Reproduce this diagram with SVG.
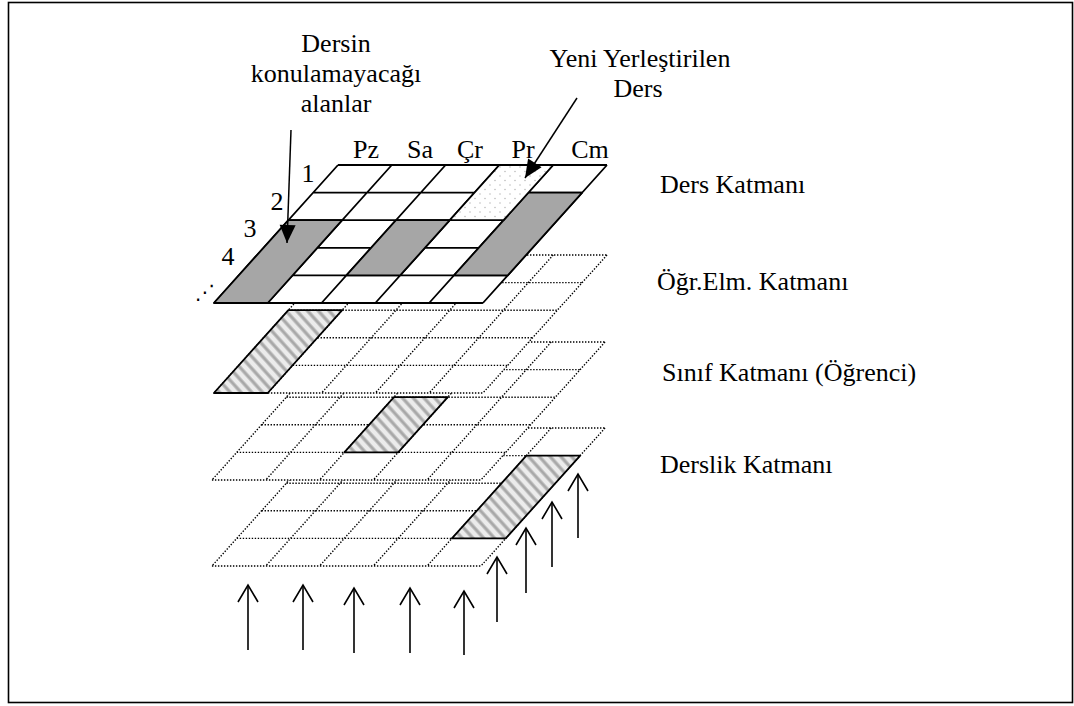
<svg xmlns="http://www.w3.org/2000/svg" xmlns:xlink="http://www.w3.org/1999/xlink" width="1074" height="706" viewBox="0 0 1074 706">
<style>
  text { font-family: "Liberation Serif", "Times New Roman", serif; font-size: 26px; fill: #000; }
  .mid { text-anchor: middle; }
  .solid { fill: none; stroke: #000; stroke-width: 1.8; }
  .dotted { fill: none; stroke: #000; stroke-width: 1.4; stroke-dasharray: 1.4 1.6; }
  .back { fill: #fff; stroke: none; }
  .gray { fill: #a6a6a6; stroke: #000; stroke-width: 1.8; stroke-linejoin: round; }
  .striped { fill: url(#stripes); stroke: #000; stroke-width: 1.8; stroke-linejoin: round; }
  .speck { fill: url(#specks); stroke: #000; stroke-width: 1.8; }
  .up { fill: none; stroke: #000; stroke-width: 1.6; marker-end: url(#open); }
  .lead { fill: none; stroke: #000; stroke-width: 1.5; marker-end: url(#solidhead); }
</style>
<defs>
  <pattern id="stripes" patternUnits="userSpaceOnUse" width="8" height="8" patternTransform="rotate(-42)">
    <rect width="8" height="8" fill="#ececec"/>
    <rect x="2" width="4" height="8" fill="#cacaca"/>
    <rect x="2.8" width="2.4" height="8" fill="#a8a8a8"/>
  </pattern>
  <pattern id="specks" patternUnits="userSpaceOnUse" width="10" height="9">
    <rect width="10" height="9" fill="#fff"/>
    <circle cx="2" cy="2" r="0.8" fill="#bdbdbd"/>
    <circle cx="7" cy="6.5" r="0.8" fill="#bdbdbd"/>
  </pattern>
  <marker id="open" markerUnits="userSpaceOnUse" viewBox="-20 -12 22 24" refX="0" refY="0" markerWidth="22" markerHeight="24" orient="auto">
    <path d="M-17,-10 L0,0 L-17,10" fill="none" stroke="#000" stroke-width="1.6"/>
  </marker>
  <marker id="solidhead" markerUnits="userSpaceOnUse" viewBox="-20 -10 22 20" refX="0" refY="0" markerWidth="22" markerHeight="20" orient="auto">
    <path d="M-18,-8 L0,0 L-18,8 Z" fill="#000"/>
  </marker>
  <path id="outline" d="M0,0H269L144.93,138H-124.07Z"/>
  <path id="lines" d="M0,0H269 M-24.81,27.6H244.19 M-49.63,55.2H219.37 M-74.44,82.8H194.56 M-99.26,110.4H169.74 M-124.07,138H144.93 M0,0L-124.07,138 M53.8,0L-70.27,138 M107.6,0L-16.47,138 M161.4,0L37.33,138 M215.2,0L91.13,138 M269,0L144.93,138"/>
</defs>

<rect x="8.5" y="2.5" width="1064" height="700" fill="#fff" stroke="#000" stroke-width="1.6"/>

<g id="layer-derslik" transform="translate(336,428)">
  <use href="#outline" class="back"/>
  <use href="#lines" class="dotted"/>
  <path class="striped" d="M190.39,27.6H244.19L169.74,110.4H115.94Z"/>
</g>

<g id="layer-sinif" transform="translate(336,342)">
  <use href="#outline" class="back"/>
  <use href="#lines" class="dotted"/>
  <path class="striped" d="M57.97,55.2H111.77L62.14,110.4H8.34Z"/>
</g>

<g id="layer-ogrelm" transform="translate(338,255)">
  <use href="#outline" class="back"/>
  <use href="#lines" class="dotted"/>
  <path class="striped" d="M-49.63,55.2H4.17L-70.27,138H-124.07Z"/>
</g>

<g id="layer-ders" transform="translate(338,165)">
  <use href="#outline" class="back"/>
  <use href="#lines" class="solid"/>
  <path class="gray" d="M-49.63,55.2H4.17L-70.27,138H-124.07Z"/>
  <path class="gray" d="M57.97,55.2H111.77L62.14,110.4H8.34Z"/>
  <path class="gray" d="M190.39,27.6H244.19L169.74,110.4H115.94Z"/>
  <path class="speck" d="M161.4,0H215.2L165.57,55.2H111.77Z"/>
</g>

<g id="day-labels">
  <text class="mid" x="366" y="158">Pz</text>
  <text class="mid" x="420" y="158">Sa</text>
  <text class="mid" x="470" y="158">Çr</text>
  <text class="mid" x="523" y="158">Pr</text>
  <text class="mid" x="590" y="158">Cm</text>
</g>

<g id="hour-labels">
  <text class="mid" x="308" y="182">1</text>
  <text class="mid" x="277" y="210">2</text>
  <text class="mid" x="250" y="237">3</text>
  <text class="mid" x="228" y="265">4</text>
  <text x="195" y="299" style="font-family: 'DejaVu Sans', sans-serif; font-size: 20px;">⋰</text>
</g>

<g id="label-forbidden">
  <text class="mid" x="336" y="52">Dersin</text>
  <text class="mid" x="336" y="82">konulamayacağı</text>
  <text class="mid" x="336" y="112">alanlar</text>
</g>

<g id="label-new">
  <text class="mid" x="640" y="67">Yeni Yerleştirilen</text>
  <text class="mid" x="638" y="97">Ders</text>
</g>

<g id="layer-labels">
  <text x="660" y="193">Ders Katmanı</text>
  <text x="657" y="290">Öğr.Elm. Katmanı</text>
  <text x="662" y="381">Sınıf Katmanı (Öğrenci)</text>
  <text x="660" y="473">Derslik Katmanı</text>
</g>

<g id="connectors">
  <line class="lead" x1="291" y1="130" x2="287" y2="243"/>
  <line class="lead" x1="577" y1="98" x2="525" y2="178"/>
  <line class="up" x1="248" y1="650" x2="248" y2="585"/>
  <line class="up" x1="303" y1="650" x2="303" y2="585"/>
  <line class="up" x1="354" y1="653" x2="354" y2="588"/>
  <line class="up" x1="410" y1="653" x2="410" y2="588"/>
  <line class="up" x1="464" y1="655" x2="464" y2="591"/>
  <line class="up" x1="497" y1="622" x2="497" y2="557"/>
  <line class="up" x1="526" y1="593" x2="526" y2="528"/>
  <line class="up" x1="552" y1="567" x2="552" y2="502"/>
  <line class="up" x1="578" y1="538" x2="578" y2="474"/>
</g>
</svg>
